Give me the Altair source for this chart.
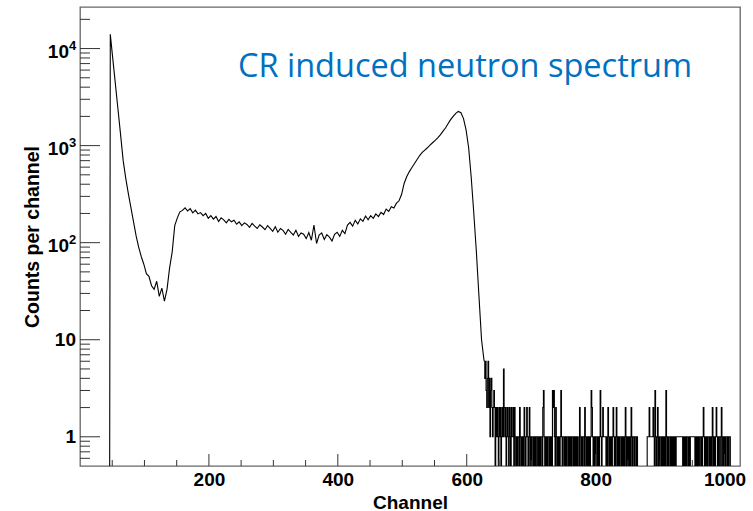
import altair as alt
import pandas as pd

TITLE = "CR induced neutron spectrum"
X_TITLE = "Channel"
Y_TITLE = "Counts per channel"

# Histogram: the rising/peak part in 4-channel steps
main_start = 47
main_step = 4
main_counts = [
    14000, 7700, 4250, 2340, 1290, 700, 460, 320, 230, 165,      # 47..83
    118, 90, 72, 60, 48, 45, 36, 33, 40, 28,                     # 87..123
    34, 25, 33, 55, 80, 150, 180, 208, 215, 228,                 # 127..163
    212, 224, 203, 216, 198, 204, 190, 200, 178, 190,            # 167..203
    175, 186, 165, 180, 172, 160, 174, 164, 170, 155,            # 207..243
    164, 150, 160, 154, 144, 158, 148, 140, 153, 145,            # 247..283
    136, 150, 140, 131, 146, 128, 140, 134, 122, 137,            # 287..323
    128, 120, 134, 116, 126, 122, 110, 127, 106, 152,            # 327..363
    98, 120, 126, 108, 121, 114, 104, 122, 128, 116,             # 367..403
    134, 124, 152, 162, 148, 170, 156, 176, 166, 188,            # 407..443
    172, 190, 178, 198, 186, 205, 195, 222, 210, 235,            # 447..483
    228, 255, 270, 315, 410, 480, 540, 595, 655, 720,            # 487..523
    790, 850, 900, 950, 1010, 1070, 1130, 1200, 1290, 1400,      # 527..563
    1520, 1680, 1850, 2000, 2150, 2250, 2180, 1900, 1450, 950,   # 567..603
    470, 200, 80, 28, 10,                                        # 607..623
]

# Sparse tail, one value per channel from 627 to 1010
tail_start = 627
tail_counts = [
    6, 4, 6, 3, 2, 4, 6, 2, 4, 1, 3, 4, 2, 1, 2, 3, 2, 0, 2, 1,
    2, 1, 0, 2, 1, 2, 0, 1, 2, 1, 5, 2, 1, 2, 0, 1, 2, 1, 0, 2,
    1, 0, 2, 1, 1, 2, 0, 2, 1, 0, 1, 0, 1, 1, 0, 2, 1, 0, 1, 0,
    1, 0, 2, 1, 0, 1, 2, 1, 0, 1, 2, 0, 1, 0, 1, 1, 0, 1, 0, 1,
    0, 1, 1, 0, 1, 0, 1, 0, 1, 1, 0, 2, 3, 1, 0, 1, 0, 1, 0, 1,
    1, 0, 1, 0, 1, 0, 3, 2, 3, 1, 0, 2, 1, 0, 1, 0, 1, 0, 1, 3,
    1, 0, 1, 1, 0, 1, 0, 1, 0, 1, 1, 0, 1, 0, 1, 0, 1, 1, 0, 1,
    0, 1, 0, 1, 0, 1, 0, 0, 2, 1, 0, 1, 0, 1, 1, 0, 2, 1, 0, 1,
    0, 1, 0, 1, 0, 1, 3, 2, 1, 0, 1, 0, 1, 0, 1, 1, 0, 1, 0, 1,
    3, 1, 0, 1, 2, 1, 1, 1, 1, 0, 1, 0, 2, 1, 0, 1, 0, 1, 0, 1,
    2, 1, 0, 1, 0, 2, 1, 0, 1, 0, 1, 1, 0, 1, 0, 1, 0, 1, 0, 2,
    1, 0, 1, 0, 1, 0, 1, 0, 2, 1, 0, 1, 1, 0, 1, 1, 0, 1, 0, 0,
    0, 0, 0, 0, 0, 0, 0, 0, 0, 0, 0, 0, 0, 1, 1, 1, 2, 1, 1, 1,
    1, 1, 2, 1, 0, 3, 1, 0, 1, 2, 0, 1, 0, 1, 1, 0, 1, 0, 1, 0,
    1, 0, 3, 1, 0, 1, 0, 1, 1, 0, 1, 0, 1, 0, 1, 0, 1, 0, 1, 1,
    1, 1, 1, 1, 1, 1, 1, 1, 0, 1, 0, 1, 0, 1, 0, 1, 1, 0, 1, 0,
    1, 1, 1, 1, 1, 1, 1, 0, 1, 0, 1, 0, 1, 0, 1, 1, 0, 1, 0, 1,
    2, 1, 0, 1, 0, 1, 0, 1, 1, 0, 1, 0, 1, 0, 2, 1, 0, 1, 0, 1,
    2, 1, 0, 1, 0, 1, 1, 0, 2, 1, 0, 1, 0, 1, 0, 1, 1, 0, 1, 0,
    1, 1, 0, 0,
]

x_major = [200, 400, 600, 800, 1000]
x_minor = [50, 100, 150, 250, 300, 350, 450, 500, 550, 650, 700, 750, 850, 900, 950]
y_major = [1, 10, 100, 1000, 10000]
y_minor = [0.6, 0.7, 0.8, 0.9, 2, 3, 4, 5, 6, 7, 8, 9,
           20, 30, 40, 50, 60, 70, 80, 90,
           200, 300, 400, 500, 600, 700, 800, 900,
           2000, 3000, 4000, 5000, 6000, 7000, 8000, 9000, 20000]
y_label_base = ["1", "10", "10", "10", "10"]
y_label_exp = ["", "", "2", "3", "4"]

channels = ([main_start - 1]
            + [main_start + main_step * i for i in range(len(main_counts))]
            + [tail_start + i for i in range(len(tail_counts))])
counts = [0] + main_counts + tail_counts
df = pd.DataFrame({"channel": channels, "count": counts})

W, H = 660, 459
LBL_FONT = "Liberation Sans"

xscale = alt.Scale(domain=[0, 1024], nice=False, zero=False)
yscale = alt.Scale(type="log", domain=[0.5, 26800], nice=False)

x_axis = alt.Axis(
    values=x_major, format="d", labelFont=LBL_FONT, labelFontSize=19, labelFontWeight="bold",
    labelColor="black", labelPadding=4, ticks=False, tickSize=0, domain=False, grid=False,
    title=X_TITLE, titleFont=LBL_FONT, titleFontSize=19, titleFontWeight="bold",
    titleColor="black", titleX=330, titleY=42, titleAlign="center",
    titleBaseline="alphabetic")
y_axis = alt.Axis(
    labels=False, ticks=False, tickSize=0, domain=False, grid=False,
    title=Y_TITLE, titleFont=LBL_FONT, titleFontSize=19.5, titleFontWeight="bold",
    titleColor="black", titleAngle=270, titleX=-42, titleY=H / 2,
    titleAlign="center", titleBaseline="alphabetic")

X = lambda f: alt.X(f, scale=xscale, axis=x_axis)
Y = lambda f: alt.Y(f, scale=yscale, axis=y_axis)

base = alt.Chart(df).transform_calculate(y="max(datum.count, 0.3)")
main_line = base.transform_filter(f"datum.channel <= {tail_start}").mark_line(
    interpolate="linear", color="black", strokeWidth=1.1, clip=True
).encode(x=X("channel:Q"), y=Y("y:Q"))
tail_line = base.transform_filter(f"datum.channel >= {tail_start}").mark_line(
    interpolate="step-after", color="black", strokeWidth=1.1, clip=True
).encode(x=X("channel:Q"), y=Y("y:Q"))

def xticks(vals, length):
    return alt.Chart(pd.DataFrame({"v": vals})).mark_rule(color="#333", strokeWidth=1).encode(
        x=X("v:Q"), y=alt.value(H), y2=alt.value(H - length))

def yticks(vals, length):
    return alt.Chart(pd.DataFrame({"v": vals})).mark_rule(color="#333", strokeWidth=1).encode(
        y=Y("v:Q"), x=alt.value(0), x2=alt.value(length))

lab_df = pd.DataFrame({"v": y_major, "base": y_label_base, "exp": y_label_exp})
plain_lab = alt.Chart(lab_df).transform_filter("datum.exp == ''").mark_text(
    align="right", baseline="middle", font=LBL_FONT, fontSize=19, fontWeight="bold", color="black"
).encode(x=alt.value(-4), y=Y("v:Q"), text="base:N")
exp_base = alt.Chart(lab_df).transform_filter("datum.exp != ''").mark_text(
    align="right", baseline="middle", dy=3, font=LBL_FONT, fontSize=19, fontWeight="bold", color="black"
).encode(x=alt.value(-11), y=Y("v:Q"), text="base:N")
exp_sup = alt.Chart(lab_df).transform_filter("datum.exp != ''").mark_text(
    align="left", baseline="middle", dy=-3, font=LBL_FONT, fontSize=13, fontWeight="bold", color="black"
).encode(x=alt.value(-11), y=Y("v:Q"), text="exp:N")

title = alt.Chart(pd.DataFrame({"t": [TITLE]})).mark_text(
    align="left", baseline="alphabetic", font="Open Sans", fontSize=32.5, color="#0070C0"
).encode(x=alt.value(158), y=alt.value(70), text="t:N")

chart = alt.layer(
    main_line, tail_line,
    xticks(x_major, 12), xticks(x_minor, 6),
    yticks(y_major, 20), yticks(y_minor, 10),
    plain_lab, exp_base, exp_sup, title,
).properties(
    width=W, height=H,
    autosize=alt.AutoSizeParams(type="none"),
    padding={"left": 80, "top": 7, "right": 13, "bottom": 45},
).configure_view(stroke="#666", strokeWidth=1.3)

chart.save("out.html", embed_options={"renderer": "svg", "actions": False})
